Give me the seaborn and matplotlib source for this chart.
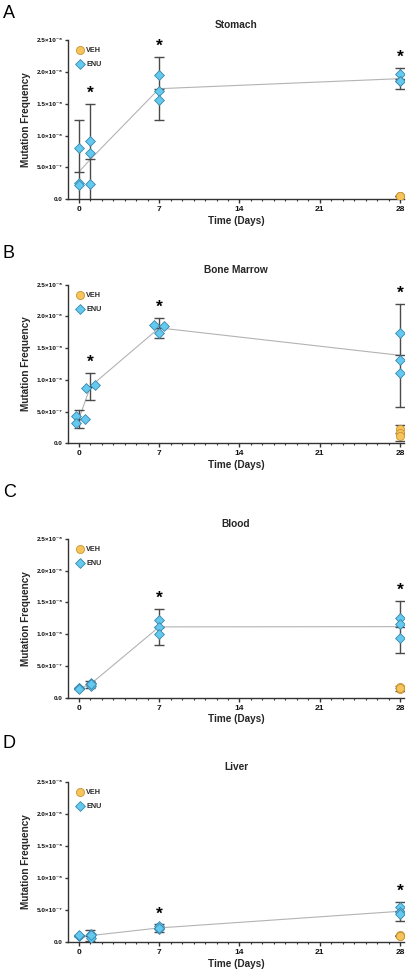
import numpy as np
import pandas as pd
import matplotlib
matplotlib.use("Agg")
import matplotlib.pyplot as plt
import seaborn as sns
from matplotlib.ticker import MultipleLocator

sns.set_theme(style="ticks")
plt.rcParams["font.family"] = ["Liberation Sans", "DejaVu Sans"]

# ---------------- data (mutation frequency, x 1e-6) ----------------
panel_letters = ["A", "B", "C", "D"]
panel_titles = ["Stomach", "Bone Marrow", "Blood", "Liver"]

x_ticks = [0, 7, 14, 21, 28]
y_ticks = [0.0, 0.5e-6, 1.0e-6, 1.5e-6, 2.0e-6, 2.5e-6]
y_tick_labels = ["0.0", "5.0×10⁻⁷", "1.0×10⁻⁶", "1.5×10⁻⁶", "2.0×10⁻⁶", "2.5×10⁻⁶"]

# Stomach
stomach_enu_day = [0, 0, 0, 1, 1, 1, 7, 7, 7, 28, 28, 28]
stomach_enu_xpos = [0.03, 0.03, 0.03, 1, 1, 1, 7, 7, 7, 28, 28, 28]
stomach_enu_val = [0.81, 0.26, 0.22, 0.915, 0.732, 0.235, 1.95, 1.705, 1.553, 1.97, 1.85, 1.86]
stomach_veh_day = [28, 28, 28]
stomach_veh_val = [0.05, 0.048, 0.052]
stomach_star_days = [1, 7, 28]

# Bone marrow
marrow_enu_day = [0, 0, 0, 1, 1, 7, 7, 7, 28, 28, 28]
marrow_enu_xpos = [-0.23, -0.23, 0.55, 0.63, 1.4, 6.57, 7.0, 7.4, 28, 28, 28]
marrow_enu_val = [0.436, 0.326, 0.383, 0.878, 0.912, 1.865, 1.744, 1.849, 1.744, 1.313, 1.103]
marrow_veh_day = [28, 28, 28]
marrow_veh_val = [0.22, 0.158, 0.116]
marrow_star_days = [1, 7, 28]

# Blood
blood_enu_day = [0, 0, 0, 1, 1, 1, 7, 7, 7, 28, 28, 28]
blood_enu_xpos = [0.05, 0.05, 0.05, 1.03, 1.03, 1.03, 7, 7, 7, 28, 28, 28]
blood_enu_val = [0.15, 0.145, 0.14, 0.237, 0.19, 0.21, 1.226, 1.121, 1.0, 1.258, 1.163, 0.937]
blood_veh_day = [28, 28, 28]
blood_veh_val = [0.163, 0.13, 0.145]
blood_star_days = [7, 28]

# Liver
liver_enu_day = [0, 0, 0, 1, 1, 1, 7, 7, 7, 28, 28, 28]
liver_enu_xpos = [0.03, 0.03, 0.03, 1.05, 1.05, 1.05, 7, 7, 7, 28, 28, 28]
liver_enu_val = [0.1, 0.098, 0.102, 0.13, 0.065, 0.105, 0.245, 0.2, 0.215, 0.545, 0.465, 0.43]
liver_veh_day = [28, 28, 28]
liver_veh_val = [0.105, 0.095, 0.1]
liver_star_days = [7, 28]

panels = [
    (stomach_enu_day, stomach_enu_xpos, stomach_enu_val, stomach_veh_day, stomach_veh_val, stomach_star_days),
    (marrow_enu_day, marrow_enu_xpos, marrow_enu_val, marrow_veh_day, marrow_veh_val, marrow_star_days),
    (blood_enu_day, blood_enu_xpos, blood_enu_val, blood_veh_day, blood_veh_val, blood_star_days),
    (liver_enu_day, liver_enu_xpos, liver_enu_val, liver_veh_day, liver_veh_val, liver_star_days),
]

# ---------------- helpers ----------------
T95 = {2: 12.706, 3: 4.303, 4: 3.182, 5: 2.776}


def ci95(v):
    v = np.asarray(v, dtype=float)
    n = len(v)
    m = v.mean()
    if n < 2:
        return (m, m)
    h = T95.get(n, 1.96) * v.std(ddof=1) / np.sqrt(n)
    return (m - h, m + h)


ENU_FILL, ENU_EDGE = "#63C9EE", "#3A86AE"
VEH_FILL, VEH_EDGE = "#F6C45A", "#C79433"
LINE_C = "#b3b3b3"
ERR_C = "#4a4a4a"
SPINE_C = "#333333"

W, H = 412, 975
fig = plt.figure(figsize=(W / 100, H / 100), dpi=100)

# axes boxes in pixels: (left, top, right, bottom)
boxes = [(68, 40, 404, 199.3), (68, 284.7, 404, 443.3), (68, 539, 404, 697.7), (68, 782, 404, 942)]
letter_y = [13.5, 253.5, 492.5, 743.5]

for i, (enu_day, enu_x, enu_val, veh_day, veh_val, star_days) in enumerate(panels):
    l, t, r, b = boxes[i]
    ax = fig.add_axes([l / W, 1 - b / H, (r - l) / W, (b - t) / H])

    enu = pd.DataFrame({"day": enu_day, "xpos": enu_x, "mf": np.array(enu_val) * 1e-6})
    veh = pd.DataFrame({"day": veh_day, "mf": np.array(veh_val) * 1e-6})

    err_kws = dict(ecolor=ERR_C, elinewidth=1.0, capsize=3.3, capthick=1.0)
    for df in (enu, veh):
        sns.lineplot(data=df, x="day", y="mf", errorbar=ci95, err_style="bars",
                     color=LINE_C, lw=0.8, marker="_", markersize=7,
                     markeredgecolor=ERR_C, markeredgewidth=1.0,
                     err_kws=err_kws, ax=ax, legend=False, zorder=2)

    sns.scatterplot(data=veh, x="day", y="mf", marker="o", s=34, color=VEH_FILL,
                    edgecolor=VEH_EDGE, linewidth=0.6, ax=ax, zorder=4, label="VEH")
    sns.scatterplot(data=enu, x="xpos", y="mf", marker="D", s=25, color=ENU_FILL,
                    edgecolor=ENU_EDGE, linewidth=0.6, ax=ax, zorder=5, label="ENU")

    # significance stars above upper CI
    for d in star_days:
        top = ci95(enu.loc[enu["day"] == d, "mf"])[1]
        ax.annotate("*", xy=(d, top), xytext=(0, 7.5), textcoords="offset points",
                    ha="center", va="center", fontsize=12.5, fontweight="bold", color="black")

    ax.set_xlim(-0.95, 28.35)
    ax.set_ylim(0, 2.5e-6)
    ax.set_xticks(x_ticks)
    ax.set_xticklabels([str(v) for v in x_ticks])
    ax.xaxis.set_minor_locator(MultipleLocator(1))
    ax.set_yticks(y_ticks)
    ax.set_yticklabels(y_tick_labels)

    sns.despine(ax=ax)
    for s in ("left", "bottom"):
        ax.spines[s].set_color(SPINE_C)
        ax.spines[s].set_linewidth(1.0)
    ax.tick_params(axis="x", which="major", length=3, width=1.0, color=SPINE_C,
                   labelsize=6, pad=2, labelcolor="#111111")
    ax.tick_params(axis="x", which="minor", length=1.6, width=0.8, color=SPINE_C)
    ax.tick_params(axis="y", which="major", length=2.5, width=1.0, color=SPINE_C,
                   labelsize=4.6, pad=1.5, labelcolor="#111111")
    for lab in ax.get_xticklabels() + ax.get_yticklabels():
        lab.set_fontweight("bold")

    ax.set_xlabel("Time (Days)", fontsize=7.2, fontweight="bold", labelpad=2)
    ax.set_ylabel("Mutation Frequency", fontsize=7.2, fontweight="bold", labelpad=4)
    ax.set_title(panel_titles[i], fontsize=7.3, fontweight="bold", pad=8.5)

    ax.legend(loc="upper left", bbox_to_anchor=(0.0, 1.0), frameon=False,
              prop=dict(size=5.2, weight="bold"), handletextpad=0.3,
              labelspacing=0.9, borderaxespad=0.6, handlelength=1.2)

    fig.text(3 / W, 1 - letter_y[i] / H, panel_letters[i], fontsize=13,
             ha="left", va="center", color="black")

fig.savefig("out.png", dpi=100)
